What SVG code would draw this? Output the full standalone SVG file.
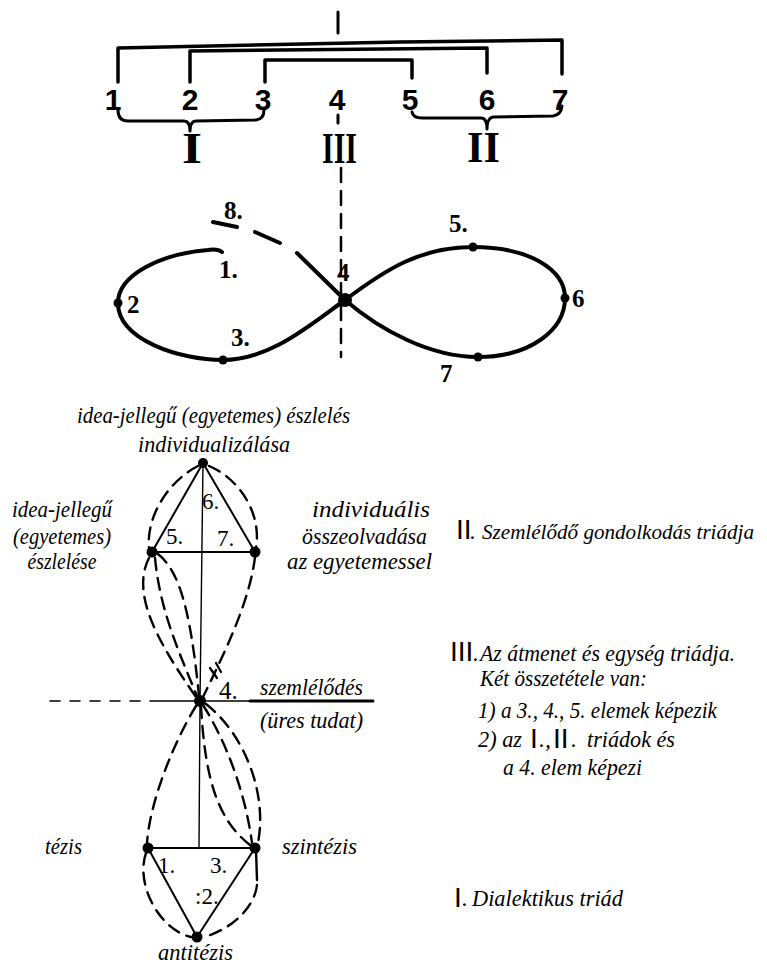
<svg xmlns="http://www.w3.org/2000/svg" width="767" height="965" viewBox="0 0 767 965">
<style>
.ln{fill:none;stroke:#000;stroke-linecap:round;stroke-linejoin:round}
.thick{stroke-width:3.5}
.fig{stroke-width:4}
.tri{stroke-width:2}
.thin{stroke-width:1.4}
.dash{stroke-width:2.4;stroke-dasharray:12 8}
.hu{font-family:"Liberation Serif",serif;font-style:italic;font-size:24px;fill:#000}
.num{font-family:"Liberation Sans",sans-serif;font-weight:bold;font-size:30px;fill:#000}
.lab{font-family:"Liberation Serif",serif;font-weight:bold;font-size:25px;fill:#000}
.lab2{font-family:"Liberation Serif",serif;font-size:23px;fill:#000}
.rom{font-family:"Liberation Serif",serif;font-weight:bold;font-size:44px;fill:#000}
.rn{font-family:"Liberation Sans",sans-serif;font-size:28px;fill:#000}
.dot{fill:#000}
</style>
<rect width="767" height="965" fill="#fff"/>

<g id="connectors">
  <path class="ln thick" d="M118,82 V48 L400,42 L562,40 V74"/>
  <path class="ln thick" d="M190,82 V51 L487,48 V73"/>
  <path class="ln thick" d="M265,82 V60 L412,60 V78"/>
  <path class="ln" stroke-width="3" d="M118,110 Q118,121 128,121 L184,121 Q190,121 190,131 Q190,121 196,121 L256,120 Q264,119 264,110"/>
  <path class="ln" stroke-width="3" d="M412,112 Q413,118 422,118 L481,118 Q487,118 487,129 Q487,118 493,117 L553,116 Q561,115 562,106"/>
  <path class="ln" stroke-width="3" d="M338,12 V33 M338,115 V123"/>
  <path class="ln" stroke-width="2.5" stroke-dasharray="14 9" d="M341,168 L341,357"/>

  <path class="ln fig" d="M345,300 C385,270 420,247 473,247 C530,247 565,270 565,298 C565,330 530,357 478,357 C430,357 380,330 345,300"/>
  <path class="ln fig" d="M222,252 C218,249 214,249 208,250 C160,254 118,275 118,303 C118,340 180,360 223,360 C270,360 310,325 345,300"/>
  <path class="ln fig" d="M345,300 L297,253 M280,243 L255,232 M237,227 L213,222"/>

  <path class="ln tri" d="M203,463 L152,552 L255,552 Z"/>
  <path class="ln thin" d="M203,463 L200,701 L199,848"/>
  <path class="ln dash" d="M198,466 C170,480 146,515 149,548"/>
  <path class="ln dash" d="M209,466 C238,478 262,512 256,548"/>
  <path class="ln dash" d="M149,558 C130,595 160,645 196,697"/>
  <path class="ln dash" d="M155,558 C160,610 178,650 197,696"/>
  <path class="ln dash" d="M158,554 C178,570 190,605 199,696"/>
  <path class="ln dash" d="M255,557 C250,600 226,650 203,697"/>
  <path class="ln" stroke-width="2.2" d="M210,668 L217,678 M216,663 L221,672"/>

  <path class="ln" stroke-width="1.6" stroke-dasharray="10 10" d="M50,701 L145,701"/>
  <path class="ln" stroke-width="1.6" d="M150,701 L250,701"/>
  <path class="ln" stroke-width="3" d="M250,701 L373,701"/>

  <path class="ln tri" d="M148,848 L255,848 L197,937 Z"/>
  <path class="ln dash" d="M196,706 C175,740 150,800 147,843"/>
  <path class="ln dash" d="M201,706 C205,780 218,820 250,845"/>
  <path class="ln dash" d="M203,705 C225,740 245,790 252,843"/>
  <path class="ln dash" d="M206,704 C242,732 268,790 258,843"/>
  <path class="ln dash" d="M146,853 C135,885 160,930 191,937"/>
  <path class="ln" stroke-width="2.4" d="M256,850 L257,880"/>
  <path class="ln dash" d="M257,885 C255,905 235,928 204,937"/>
</g>

<g id="top-scale">
  <text class="num" x="113" y="110" text-anchor="middle">1</text>
  <text class="num" x="190" y="110" text-anchor="middle">2</text>
  <text class="num" x="263" y="110" text-anchor="middle">3</text>
  <text class="num" x="337" y="110" text-anchor="middle">4</text>
  <text class="num" x="410" y="110" text-anchor="middle">5</text>
  <text class="num" x="487" y="110" text-anchor="middle">6</text>
  <text class="num" x="560" y="110" text-anchor="middle">7</text>
  <text class="rom" x="182" y="163" textLength="20" lengthAdjust="spacingAndGlyphs">I</text>
  <text class="rom" x="322" y="163" textLength="35" lengthAdjust="spacingAndGlyphs">III</text>
  <text class="rom" x="467" y="162" textLength="33" lengthAdjust="spacingAndGlyphs">II</text>
</g>

<g id="figure-eight">
  <circle class="dot" cx="118" cy="303" r="4.5"/>
  <circle class="dot" cx="223" cy="360" r="4.5"/>
  <circle class="dot" cx="345" cy="300" r="7"/>
  <circle class="dot" cx="473" cy="247" r="4.5"/>
  <circle class="dot" cx="565" cy="298" r="4.5"/>
  <circle class="dot" cx="478" cy="357" r="4.5"/>
  <text class="lab" x="224" y="219">8.</text>
  <text class="lab" x="219" y="278">1.</text>
  <text class="lab" x="127" y="313">2</text>
  <text class="lab" x="231" y="346">3.</text>
  <text class="lab" x="337" y="281">4</text>
  <text class="lab" x="449" y="232">5.</text>
  <text class="lab" x="572" y="307">6</text>
  <text class="lab" x="440" y="382">7</text>
</g>

<g id="node-top">
  <circle class="dot" cx="203" cy="463" r="5"/>
  <text class="hu" x="77" y="423" textLength="273" lengthAdjust="spacingAndGlyphs">idea-jellegű (egyetemes) észlelés</text>
  <text class="hu" x="138" y="452" textLength="152" lengthAdjust="spacingAndGlyphs">individualizálása</text>
  <text class="lab2" x="202" y="509">6.</text>
</g>
<g id="node-left">
  <circle class="dot" cx="152" cy="552" r="5.5"/>
  <text class="hu" x="62" y="517" text-anchor="middle" textLength="100" lengthAdjust="spacingAndGlyphs">idea-jellegű</text>
  <text class="hu" x="62" y="544" text-anchor="middle" textLength="98" lengthAdjust="spacingAndGlyphs">(egyetemes)</text>
  <text class="hu" x="62" y="569" text-anchor="middle" textLength="69" lengthAdjust="spacingAndGlyphs">észlelése</text>
  <text class="lab2" x="166" y="544">5.</text>
</g>
<g id="node-right">
  <circle class="dot" cx="255" cy="552" r="5.5"/>
  <text class="hu" x="312" y="517" textLength="118" lengthAdjust="spacingAndGlyphs">individuális</text>
  <text class="hu" x="302" y="544" textLength="125" lengthAdjust="spacingAndGlyphs">összeolvadása</text>
  <text class="hu" x="287" y="569" textLength="145" lengthAdjust="spacingAndGlyphs">az egyetemessel</text>
  <text class="lab2" x="217" y="546">7.</text>
</g>
<g id="node-4">
  <circle class="dot" cx="200" cy="701" r="6"/>
  <text class="lab2" x="219" y="699" style="font-size:25px">4.</text>
  <text class="hu" x="260" y="695" textLength="103" lengthAdjust="spacingAndGlyphs">szemlélődés</text>
  <text class="hu" x="260" y="728" textLength="103" lengthAdjust="spacingAndGlyphs">(üres tudat)</text>
</g>
<g id="node-tezis">
  <circle class="dot" cx="148" cy="848" r="5.5"/>
  <text class="hu" x="45" y="854" textLength="37" lengthAdjust="spacingAndGlyphs">tézis</text>
  <text class="lab2" x="158" y="873">1.</text>
</g>
<g id="node-szintezis">
  <circle class="dot" cx="255" cy="848" r="5.5"/>
  <text class="hu" x="282" y="854" textLength="75" lengthAdjust="spacingAndGlyphs">szintézis</text>
  <text class="lab2" x="210" y="873">3.</text>
</g>
<g id="node-antitezis">
  <circle class="dot" cx="197" cy="937" r="5.5"/>
  <text class="hu" x="158" y="960" textLength="75" lengthAdjust="spacingAndGlyphs">antitézis</text>
  <text class="lab2" x="195" y="904">:2.</text>
</g>

<g id="legend">
  <text class="rn" x="456" y="539">II</text>
  <text class="hu" x="470" y="539">.</text>
  <text class="hu" x="482" y="539" style="font-size:21px" textLength="272" lengthAdjust="spacingAndGlyphs">Szemlélődő gondolkodás triádja</text>

  <text class="rn" x="450" y="661">III</text>
  <text class="hu" x="473" y="661">.</text>
  <text class="hu" x="480" y="661" textLength="255" lengthAdjust="spacingAndGlyphs">Az átmenet és egység triádja.</text>
  <text class="hu" x="480" y="686" textLength="167" lengthAdjust="spacingAndGlyphs">Két összetétele van:</text>
  <text class="hu" x="478" y="718" textLength="239" lengthAdjust="spacingAndGlyphs">1) a 3., 4., 5. elemek képezik</text>
  <text class="hu" x="478" y="747" textLength="44" lengthAdjust="spacingAndGlyphs">2) az</text>
  <text class="rn" x="530" y="748">I</text>
  <text class="hu" x="539" y="747">.,</text>
  <text class="rn" x="553" y="748">II</text>
  <text class="hu" x="571" y="747">.</text>
  <text class="hu" x="587" y="747" textLength="88" lengthAdjust="spacingAndGlyphs">triádok és</text>
  <text class="hu" x="503" y="775" textLength="139" lengthAdjust="spacingAndGlyphs">a 4. elem képezi</text>

  <text class="rn" x="454" y="907">I</text>
  <text class="hu" x="462" y="906">.</text>
  <text class="hu" x="472" y="906" textLength="151" lengthAdjust="spacingAndGlyphs">Dialektikus triád</text>
</g>
</svg>
